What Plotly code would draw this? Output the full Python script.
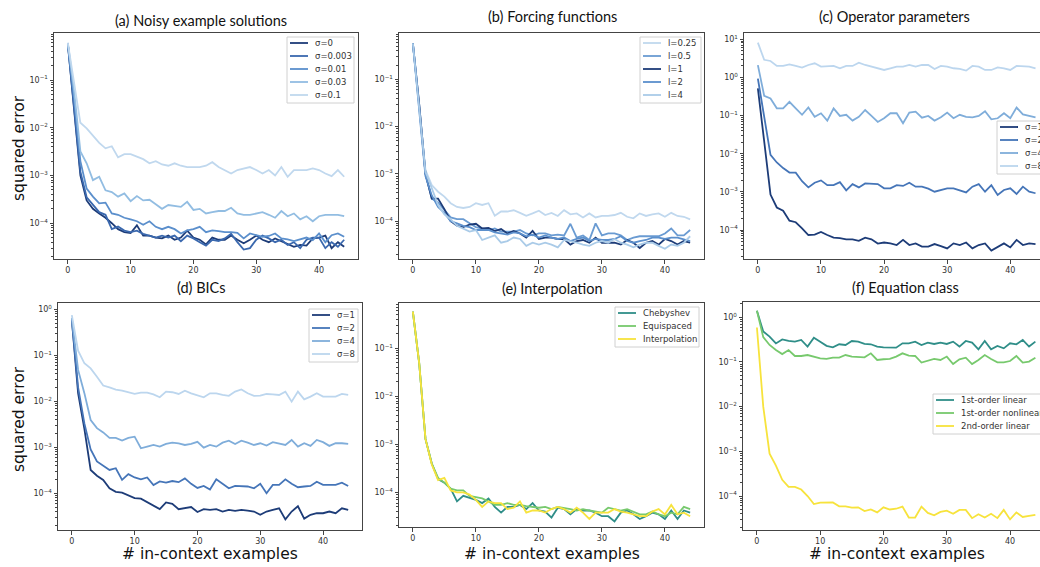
import plotly.graph_objects as go

W, H = 1040, 567
x_vals = list(range(45))
x_ticks = [0, 10, 20, 30, 40]
decades = [-4, -3, -2, -1, 0, 1]

# ---------------- (a) Noisy example solutions ----------------
a_names = ["σ=0", "σ=0.003", "σ=0.01", "σ=0.03", "σ=0.1"]
a_s0 = [0.58, 0.02, 0.001, 0.0003, 0.0002, 0.00016, 0.00013, 0.0001, 7.5e-5, 6.5e-5,
        6.2e-5, 9e-5, 5.5e-5, 5.5e-5, 5e-5, 4.8e-5, 5.5e-5, 4.5e-5, 5e-5, 7e-5,
        5e-5, 4.5e-5, 3.6e-5, 5e-5, 4.5e-5, 4.5e-5, 5.5e-5, 4.5e-5, 3.8e-5, 4.5e-5,
        5.5e-5, 4.5e-5, 4e-5, 4.8e-5, 4.2e-5, 3.8e-5, 3.2e-5, 3.5e-5, 3.4e-5, 4.8e-5,
        5e-5, 5.5e-5, 3e-5, 4e-5, 3.2e-5]
a_s003 = [0.58, 0.03, 0.0012, 0.00035, 0.00025, 0.00017, 0.00015, 7.5e-5, 8.5e-5, 7e-5,
          6.5e-5, 7e-5, 6e-5, 5.5e-5, 5e-5, 5.5e-5, 5e-5, 5.5e-5, 4.2e-5, 5.5e-5,
          4.8e-5, 4e-5, 3.4e-5, 4.5e-5, 4.2e-5, 4.8e-5, 6e-5, 4e-5, 2.8e-5, 3e-5,
          4.5e-5, 5.5e-5, 4.8e-5, 4e-5, 4.5e-5, 3.5e-5, 4e-5, 3e-5, 4.5e-5, 5e-5,
          5e-5, 3e-5, 4e-5, 3.2e-5, 4.5e-5]
a_s01 = [0.58, 0.04, 0.002, 0.00053, 0.00036, 0.00026, 0.00027, 0.00016, 0.00015, 0.00013,
         0.00012, 0.00011, 9.3e-5, 0.00011, 8.4e-5, 7.5e-5, 8.4e-5, 7.5e-5, 6.1e-5, 7.1e-5,
         7.5e-5, 8.4e-5, 6.5e-5, 7.1e-5, 6.8e-5, 6.5e-5, 6.5e-5, 6.3e-5, 4.8e-5, 6.1e-5,
         5.6e-5, 5.2e-5, 5.4e-5, 6.1e-5, 4.8e-5, 4.6e-5, 4.2e-5, 4.6e-5, 5e-5, 4.4e-5,
         6.1e-5, 4e-5, 5.6e-5, 6.1e-5, 5.2e-5]
a_s03 = [0.6, 0.06, 0.0032, 0.0018, 0.0008, 0.00094, 0.00049, 0.00045, 0.00036, 0.00042,
         0.00029, 0.00037, 0.0003, 0.00031, 0.00025, 0.0002, 0.00024, 0.00023, 0.00022, 0.00028,
         0.00019, 0.0002, 0.00016, 0.00017, 0.00018, 0.00018, 0.00021, 0.00016, 0.00015, 0.00015,
         0.00016, 0.00017, 0.00015, 0.00013, 0.00018, 0.00014, 0.00016, 0.00012, 0.00014, 0.00011,
         0.00014, 0.00015, 0.00015, 0.00015, 0.00014]
a_s1 = [0.6, 0.09, 0.0127, 0.0097, 0.007, 0.0048, 0.0037, 0.0041, 0.0024, 0.0028,
        0.0028, 0.0025, 0.0022, 0.0018, 0.002, 0.0017, 0.0016, 0.0018, 0.0016, 0.0015,
        0.0015, 0.0015, 0.0016, 0.0019, 0.0015, 0.0013, 0.0011, 0.0013, 0.0014, 0.0015,
        0.0013, 0.0011, 0.0013, 0.001, 0.0015, 0.00094, 0.0013, 0.0013, 0.0013, 0.0014,
        0.0013, 0.0011, 0.00097, 0.0013, 0.00094]
a_colors = ["#1d3c78", "#3a68ae", "#5b8fcc", "#92bde2", "#c0d8ee"]

# ---------------- (b) Forcing functions ----------------
b_names = ["l=0.25", "l=0.5", "l=1", "l=2", "l=4"]
b_l025 = [0.58, 0.03, 0.0012, 0.00058, 0.00042, 0.00033, 0.00024, 0.0002, 0.00019, 0.0002,
          0.00024, 0.00022, 0.00024, 0.00013, 0.00016, 0.00016, 0.00017, 0.00015, 0.00013, 0.000146,
          0.000166, 0.000135, 0.00015, 0.000129, 0.000171, 0.00014, 0.000146, 0.00012, 0.000146, 0.00012,
          0.000129, 0.000129, 0.000135, 0.00015, 0.000124, 0.000115, 0.000146, 0.000129, 0.00014, 0.000146,
          0.000124, 0.00015, 0.000129, 0.000124, 0.000109]
b_l05 = [0.58, 0.03, 0.001, 0.0003, 0.00025, 0.00017, 0.00012, 0.00011, 0.00011, 9e-5,
         7.5e-5, 7e-5, 6.5e-5, 7e-5, 6e-5, 6e-5, 6e-5, 6.5e-5, 5.5e-5, 5e-5,
         5.5e-5, 5.5e-5, 5e-5, 5.2e-5, 5e-5, 8.8e-5, 4.5e-5, 5e-5, 4e-5, 9e-5,
         5e-5, 5.5e-5, 5.5e-5, 5e-5, 4e-5, 4.5e-5, 4.8e-5, 4.8e-5, 4.8e-5, 4.8e-5,
         5.5e-5, 7e-5, 5e-5, 5e-5, 6.5e-5]
b_l1 = [0.58, 0.03, 0.001, 0.0003, 0.0003, 0.00018, 0.0001, 8e-5, 7.5e-5, 8.5e-5,
        8.8e-5, 7e-5, 7.2e-5, 6.2e-5, 6.8e-5, 5.5e-5, 6.2e-5, 5.5e-5, 4.5e-5, 6.2e-5,
        4.2e-5, 4.5e-5, 4.5e-5, 4.2e-5, 4.2e-5, 3.2e-5, 3.8e-5, 4e-5, 3.5e-5, 4.5e-5,
        3.5e-5, 3.5e-5, 3.5e-5, 3.2e-5, 4e-5, 3.5e-5, 2.7e-5, 3.5e-5, 3.8e-5, 3.2e-5,
        4.2e-5, 3.8e-5, 3.2e-5, 3.8e-5, 3.5e-5]
b_l2 = [0.58, 0.025, 0.0009, 0.00035, 0.0002, 0.00015, 0.0001, 9e-5, 8e-5, 7.5e-5,
        6.5e-5, 6.5e-5, 6.5e-5, 5.8e-5, 5.5e-5, 5.2e-5, 5.8e-5, 5.5e-5, 4.8e-5, 5.2e-5,
        4.5e-5, 5e-5, 4.5e-5, 4.2e-5, 4.5e-5, 3.8e-5, 4.2e-5, 4.5e-5, 3.8e-5, 4.2e-5,
        4e-5, 4e-5, 4.2e-5, 4.8e-5, 3.8e-5, 3.5e-5, 3.8e-5, 4e-5, 4.5e-5, 4.5e-5,
        4.2e-5, 4.5e-5, 4.5e-5, 4.2e-5, 3.8e-5]
b_l4 = [0.58, 0.03, 0.0011, 0.0005, 0.00022, 0.00014, 0.00011, 8e-5, 7e-5, 6e-5,
        6.5e-5, 4e-5, 4.5e-5, 5e-5, 3.5e-5, 3.8e-5, 4.5e-5, 4.2e-5, 3e-5, 3.5e-5,
        3.2e-5, 3.5e-5, 3.2e-5, 2.8e-5, 4e-5, 3.8e-5, 3.5e-5, 3.2e-5, 3e-5, 3.5e-5,
        3.8e-5, 3.5e-5, 4.2e-5, 3.5e-5, 3.2e-5, 2.8e-5, 3.2e-5, 3.5e-5, 3.5e-5, 3e-5,
        2.6e-5, 3.2e-5, 3e-5, 3.5e-5, 4.8e-5]
b_colors = ["#c0d8ee", "#6a9bd2", "#1d3c78", "#5b8fcc", "#aacbe8"]

# ---------------- (c) Operator parameters ----------------
c_names = ["σ=1", "σ=2", "σ=4", "σ=8"]
c_s1 = [0.52, 0.02, 0.00085, 0.00039, 0.00032, 0.000176, 0.00016, 0.000111, 7.4e-5, 7.6e-5,
        8.9e-5, 7.4e-5, 6.3e-5, 6.1e-5, 5.7e-5, 5.7e-5, 5.2e-5, 6.3e-5, 5.7e-5, 4.4e-5,
        4.7e-5, 4.46e-5, 4.04e-5, 5.5e-5, 4.04e-5, 4.46e-5, 3.66e-5, 3.66e-5, 4.28e-5, 3.8e-5,
        3.3e-5, 4.46e-5, 4.04e-5, 4.7e-5, 3.3e-5, 4.04e-5, 4.46e-5, 2.9e-5, 3.66e-5, 4.46e-5,
        3.5e-5, 5.5e-5, 4.04e-5, 4.46e-5, 4.28e-5]
c_s2 = [0.93, 0.1, 0.0093, 0.0059, 0.0042, 0.0032, 0.0032, 0.0019, 0.00131, 0.00174,
        0.002, 0.0015, 0.0015, 0.0018, 0.0011, 0.0016, 0.00131, 0.00167, 0.00167, 0.0016,
        0.00124, 0.00124, 0.0015, 0.00143, 0.00174, 0.00137, 0.00137, 0.00121, 0.00101, 0.00112,
        0.00124, 0.00124, 0.00112, 0.00097, 0.00137, 0.0016, 0.00101, 0.0015, 0.00083, 0.00112,
        0.00124, 0.00088, 0.00137, 0.00101, 0.00092]
c_s4 = [2.1, 0.33, 0.28, 0.155, 0.155, 0.23, 0.155, 0.105, 0.163, 0.093,
        0.115, 0.074, 0.155, 0.098, 0.105, 0.074, 0.093, 0.14, 0.098, 0.068,
        0.085, 0.115, 0.115, 0.063, 0.12, 0.127, 0.088, 0.098, 0.074, 0.09,
        0.12, 0.085, 0.105, 0.093, 0.09, 0.098, 0.13, 0.08, 0.085, 0.115,
        0.085, 0.163, 0.107, 0.098, 0.09]
c_s8 = [8.2, 2.9, 2.7, 2.0, 2.0, 2.2, 2.0, 1.81, 2.12, 2.35,
        1.92, 1.92, 2.0, 1.74, 2.0, 2.0, 2.44, 2.12, 1.92, 1.74,
        1.57, 1.74, 1.92, 1.92, 2.12, 1.92, 2.12, 2.12, 1.67, 2.0,
        1.92, 1.74, 1.67, 1.51, 2.0, 1.92, 1.57, 1.57, 1.84, 1.74,
        1.57, 2.0, 2.0, 1.92, 1.74]
c_colors = ["#1d3c78", "#4575b8", "#7fadda", "#bcd6ee"]

# ---------------- (d) BICs ----------------
d_names = ["σ=1", "σ=2", "σ=4", "σ=8"]
d_s1 = [0.6, 0.015, 0.0025, 0.00032, 0.00024, 0.000195, 0.000128, 0.000107, 0.000103, 8.8e-5,
        7.8e-5, 7.6e-5, 6.3e-5, 5.3e-5, 4.5e-5, 6.3e-5, 5.9e-5, 4.49e-5, 4.7e-5, 5e-5,
        3.9e-5, 4.49e-5, 4.34e-5, 4.49e-5, 4e-5, 4.34e-5, 4.14e-5, 4.34e-5, 4.2e-5, 4e-5,
        3.4e-5, 4e-5, 4.34e-5, 4.7e-5, 2.7e-5, 4e-5, 5.2e-5, 2.8e-5, 3.4e-5, 3.67e-5,
        3.67e-5, 4e-5, 3.67e-5, 4.7e-5, 4.34e-5]
d_s2 = [0.6, 0.02, 0.0033, 0.0009, 0.00049, 0.0004, 0.00032, 0.00035, 0.000195, 0.00026,
        0.00022, 0.0002, 0.00022, 0.00015, 0.00018, 0.00017, 0.000184, 0.000174, 0.00021, 0.00016,
        0.00013, 0.000144, 0.00012, 0.0002, 0.00016, 0.000128, 0.000144, 0.00014, 0.00014, 0.000128,
        0.00016, 0.0001, 0.000152, 0.000152, 0.000201, 0.00016, 0.000135, 0.00014, 0.000144, 0.000178,
        0.000152, 0.000152, 0.000152, 0.00017, 0.000144]
d_s4 = [0.65, 0.048, 0.015, 0.0039, 0.0026, 0.0021, 0.0016, 0.0016, 0.0014, 0.0016,
        0.0017, 0.00095, 0.00103, 0.00112, 0.00103, 0.00118, 0.00126, 0.00122, 0.00112, 0.00118,
        0.00131, 0.00098, 0.00112, 0.00103, 0.00126, 0.00139, 0.00118, 0.00139, 0.00126, 0.00112,
        0.00122, 0.00109, 0.00129, 0.00122, 0.00112, 0.00144, 0.00103, 0.00122, 0.00107, 0.00144,
        0.00129, 0.00107, 0.00122, 0.00122, 0.00118]
d_s8 = [0.75, 0.126, 0.067, 0.052, 0.034, 0.022, 0.02, 0.018, 0.017, 0.0154,
        0.0145, 0.0154, 0.0154, 0.0141, 0.0122, 0.0162, 0.0157, 0.0144, 0.017, 0.0149,
        0.0137, 0.0122, 0.0149, 0.0149, 0.0137, 0.0131, 0.0162, 0.018, 0.0149, 0.0131,
        0.0132, 0.0144, 0.0141, 0.0137, 0.0162, 0.0098, 0.0162, 0.011, 0.0126, 0.0149,
        0.0126, 0.0126, 0.0126, 0.0144, 0.0137]
d_colors = ["#1d3c78", "#4575b8", "#7fadda", "#bcd6ee"]

# ---------------- (e) Interpolation ----------------
e_names = ["Chebyshev", "Equispaced", "Interpolation"]
e_cheb = [0.58, 0.05, 0.0013, 0.0004, 0.00019, 0.00016, 0.00012, 6.5e-5, 8.5e-5, 7.8e-5,
          7e-5, 6e-5, 7.5e-5, 5e-5, 3.8e-5, 5e-5, 5e-5, 5.5e-5, 4.5e-5, 6e-5,
          4.2e-5, 4e-5, 3e-5, 4.8e-5, 4.5e-5, 3.5e-5, 4.5e-5, 4.2e-5, 4.2e-5, 3.8e-5,
          3.2e-5, 3.2e-5, 2.5e-5, 3.8e-5, 4.2e-5, 3.5e-5, 2.8e-5, 3.2e-5, 3.8e-5, 3.5e-5,
          2.8e-5, 4.2e-5, 2.8e-5, 4.2e-5, 3.8e-5]
e_equi = [0.58, 0.05, 0.0013, 0.0004, 0.0002, 0.00016, 0.00012, 0.00011, 0.00011, 8.5e-5,
          8e-5, 7.5e-5, 6.5e-5, 5.5e-5, 5.5e-5, 6e-5, 5.5e-5, 5.5e-5, 5.2e-5, 5e-5,
          4.8e-5, 5e-5, 4.5e-5, 5e-5, 4.8e-5, 4.5e-5, 4.2e-5, 4.5e-5, 4.2e-5, 4e-5,
          3.8e-5, 4.8e-5, 4.5e-5, 4.2e-5, 4.5e-5, 4e-5, 3.5e-5, 3.5e-5, 4e-5, 3.5e-5,
          3.2e-5, 3.8e-5, 3.5e-5, 5e-5, 4.5e-5]
e_interp = [0.58, 0.05, 0.0013, 0.00038, 0.00018, 0.0002, 0.00011, 0.0001, 0.0001, 9e-5,
            7e-5, 5e-5, 6.5e-5, 6e-5, 6e-5, 4.5e-5, 4.8e-5, 6.5e-5, 3.8e-5, 4.2e-5,
            4.2e-5, 3.8e-5, 4.5e-5, 5e-5, 4.5e-5, 3.8e-5, 4.8e-5, 3.8e-5, 2.8e-5, 3.8e-5,
            3.8e-5, 3.8e-5, 4.5e-5, 4e-5, 3.8e-5, 3.5e-5, 3.2e-5, 3.2e-5, 4e-5, 4.5e-5,
            3.5e-5, 5.5e-5, 3.5e-5, 3.8e-5, 3.2e-5]
e_colors = ["#2f8e88", "#77c96d", "#f7e33c"]

# ---------------- (f) Equation class ----------------
f_names = ["1st-order linear", "1st-order nonlinear", "2nd-order linear"]
f_lin1 = [1.4, 0.48, 0.37, 0.26, 0.32, 0.295, 0.285, 0.311, 0.221, 0.35,
          0.285, 0.23, 0.213, 0.249, 0.24, 0.295, 0.285, 0.253, 0.249, 0.221,
          0.213, 0.209, 0.209, 0.262, 0.262, 0.285, 0.24, 0.271, 0.253, 0.271,
          0.253, 0.285, 0.221, 0.295, 0.271, 0.192, 0.295, 0.192, 0.228, 0.202,
          0.262, 0.249, 0.311, 0.221, 0.285]
f_non1 = [1.4, 0.36, 0.24, 0.185, 0.15, 0.185, 0.136, 0.136, 0.143, 0.132,
          0.12, 0.117, 0.125, 0.125, 0.143, 0.132, 0.127, 0.127, 0.156, 0.111,
          0.115, 0.117, 0.132, 0.156, 0.139, 0.136, 0.097, 0.107, 0.117, 0.111,
          0.132, 0.09, 0.115, 0.125, 0.09, 0.111, 0.143, 0.117, 0.098, 0.098,
          0.105, 0.136, 0.097, 0.102, 0.125]
f_lin2 = [0.59, 0.01, 0.00089, 0.00048, 0.00023, 0.00016, 0.00016, 0.00014, 0.0001, 6.6e-5,
          7.1e-5, 7.2e-5, 7.2e-5, 5.9e-5, 5.9e-5, 5.5e-5, 5.6e-5, 4.6e-5, 5e-5, 4.3e-5,
          5.6e-5, 5e-5, 5.2e-5, 5.8e-5, 3.3e-5, 3.3e-5, 5.8e-5, 4.2e-5, 3.7e-5, 4.4e-5,
          4.7e-5, 4e-5, 4.9e-5, 4.9e-5, 3.2e-5, 3.9e-5, 3.3e-5, 4e-5, 3.2e-5, 4.9e-5,
          3e-5, 4.3e-5, 3.4e-5, 3.6e-5, 3.8e-5]
f_colors = ["#2f8e88", "#77c96d", "#f7e33c"]

# ---------------- layout specs (pixel geometry) ----------------
panels = [
    dict(title="(a) Noisy example solutions", names=a_names, series=[a_s0, a_s003, a_s01, a_s03, a_s1],
         colors=a_colors, dx=(54, 358), dy=(33, 259), xr=(-2.2, 46.2), yr=(-4.75, -0.015),
         txy=(201, 20), leg=(287, 37, 354), mirror_y=True),
    dict(title="(b) Forcing functions", names=b_names, series=[b_l025, b_l05, b_l1, b_l2, b_l4],
         colors=b_colors, dx=(399, 704), dy=(33, 259), xr=(-2.2, 46.2), yr=(-4.80, -0.02),
         txy=(552, 17), leg=(640, 37, 701), mirror_y=True),
    dict(title="(c) Operator parameters", names=c_names, series=[c_s1, c_s2, c_s4, c_s8],
         colors=c_colors, dx=(744, 1040), dy=(33, 259), xr=(-2.2, 44.71), yr=(-4.76, 1.165),
         txy=(894, 17), leg=(997, 121, 1046), mirror_y=False),
    dict(title="(d) BICs", names=d_names, series=[d_s1, d_s2, d_s4, d_s8],
         colors=d_colors, dx=(58, 362), dy=(303, 530), xr=(-2.2, 46.2), yr=(-4.80, 0.137),
         txy=(201, 287), leg=(309, 309, 358), mirror_y=True),
    dict(title="(e) Interpolation", names=e_names, series=[e_cheb, e_equi, e_interp],
         colors=e_colors, dx=(399, 704), dy=(303, 527), xr=(-2.2, 46.2), yr=(-4.72, -0.056),
         txy=(552, 288), leg=(615, 307, 699), mirror_y=True),
    dict(title="(f) Equation class", names=f_names, series=[f_lin1, f_non1, f_lin2],
         colors=f_colors, dx=(743, 1040), dy=(302, 530), xr=(-2.2, 44.73), yr=(-4.76, 0.342),
         txy=(905, 287), leg=(933, 394, 1046), mirror_y=False),
]


def fx(p):
    return p / W


def fy(p):
    return 1 - p / H


def sup(e):
    return "10<sup>" + ("\u2212" + str(-e) if e < 0 else str(e)) + "</sup>"


fig = go.Figure()
shapes = []
annotations = []
AX = "#444444"
TICKFONT = dict(family="DejaVu Sans", size=8, color="#333333")

for k, p in enumerate(panels, start=1):
    xa = "x" if k == 1 else f"x{k}"
    ya = "y" if k == 1 else f"y{k}"
    for name, vals, col in zip(p["names"], p["series"], p["colors"]):
        fig.add_trace(go.Scatter(x=x_vals, y=vals, mode="lines", name=name,
                                 line=dict(color=col, width=1.8),
                                 xaxis=xa, yaxis=ya, showlegend=False))
    xkey = "xaxis" if k == 1 else f"xaxis{k}"
    ykey = "yaxis" if k == 1 else f"yaxis{k}"
    decs = [d for d in decades if p["yr"][0] <= d <= p["yr"][1]]
    fig.layout[xkey] = dict(
        domain=[fx(p["dx"][0]), min(1.0, fx(p["dx"][1]))], anchor=ya,
        range=list(p["xr"]), tickvals=x_ticks, ticks="outside", ticklen=3.5,
        tickcolor=AX, tickfont=TICKFONT, showline=True, linecolor=AX, linewidth=1,
        mirror=True, showgrid=False, zeroline=False)
    fig.layout[ykey] = dict(
        domain=[fy(p["dy"][1]), fy(p["dy"][0])], anchor=xa, type="log",
        range=list(p["yr"]), tickvals=[10.0 ** d for d in decs],
        ticktext=[sup(d) for d in decs], ticks="outside",
        ticklen=3.5, tickcolor=AX, tickfont=TICKFONT, showline=True, linecolor=AX,
        linewidth=1, mirror=p["mirror_y"], showgrid=False, zeroline=False,
        minor=dict(ticks="outside", ticklen=2, tickcolor=AX, dtick="D1", showgrid=False))

    # panel title
    annotations.append(dict(text=p["title"], x=fx(p["txy"][0]), y=fy(p["txy"][1]),
                            xref="paper", yref="paper", xanchor="center", yanchor="middle",
                            showarrow=False, font=dict(family="Lato", size=14.5, color="#111111")))

    # legend box drawn in matplotlib style
    lx0, ly0, lx1 = p["leg"]
    n = len(p["names"])
    step = 13.0
    ly1 = ly0 + 6 + (n - 1) * step + 8
    shapes.append(dict(type="rect", xref="paper", yref="paper",
                       x0=fx(lx0), x1=fx(lx1), y0=fy(ly1), y1=fy(ly0),
                       line=dict(color="#d0d0d0", width=1),
                       fillcolor="rgba(255,255,255,0.85)", layer="above"))
    for i, (name, col) in enumerate(zip(p["names"], p["colors"])):
        yy = ly0 + 6 + i * step
        shapes.append(dict(type="line", xref="paper", yref="paper",
                           x0=fx(lx0 + 3), x1=fx(lx0 + 21), y0=fy(yy), y1=fy(yy),
                           line=dict(color=col, width=1.8), layer="above"))
        annotations.append(dict(text=name, x=fx(lx0 + 26), y=fy(yy), xref="paper", yref="paper",
                                xanchor="left", yanchor="middle", showarrow=False,
                                font=dict(family="DejaVu Sans", size=8.5, color="#333333")))

# axis labels
LABF = dict(family="DejaVu Sans", size=15.5, color="#111111")
for yc in (148, 419):
    annotations.append(dict(text="squared error", x=fx(19), y=fy(yc), xref="paper", yref="paper",
                            xanchor="center", yanchor="middle", textangle=-90,
                            showarrow=False, font=LABF))
for xc in (210, 552, 897):
    annotations.append(dict(text="# in-context examples", x=fx(xc), y=fy(554), xref="paper",
                            yref="paper", xanchor="center", yanchor="middle",
                            showarrow=False, font=LABF))

fig.update_layout(
    width=W, height=H,
    margin=dict(l=0, r=0, t=0, b=0, pad=0, autoexpand=False),
    paper_bgcolor="white", plot_bgcolor="white",
    showlegend=False,
    shapes=shapes, annotations=annotations,
)

fig.write_html("out.html", config={"displayModeBar": False},
               post_script="document.body.style.margin='0';document.body.style.overflow='hidden';")
